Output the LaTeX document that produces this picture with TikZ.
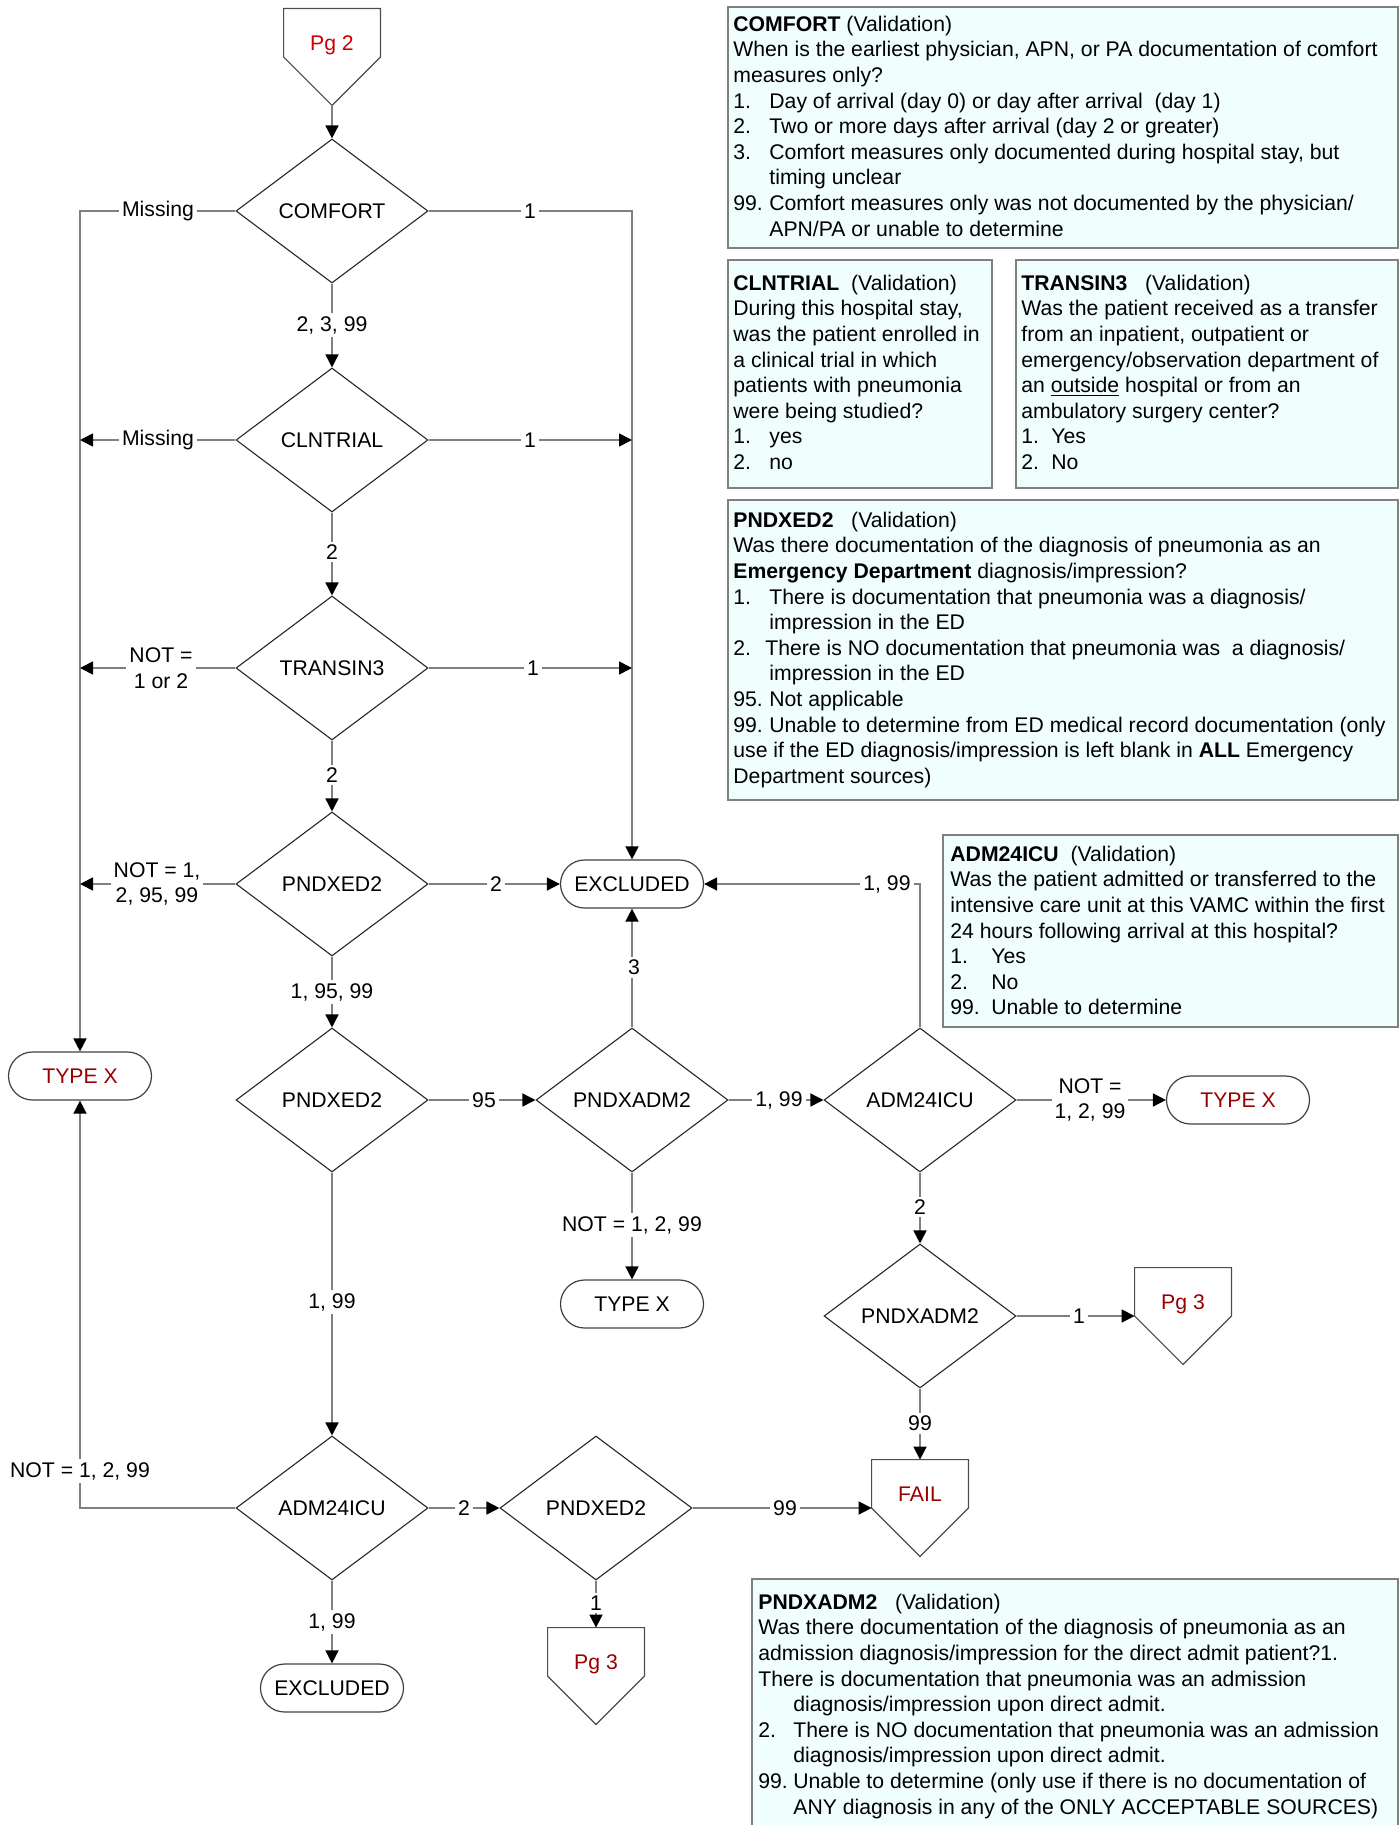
\documentclass[tikz,border=0pt]{standalone}
\usepackage{fontspec}
\setmainfont{Liberation Sans}
\usetikzlibrary{shapes.geometric,shapes.misc,arrows.meta,fit}
\definecolor{linegray}{HTML}{808080}
\definecolor{boxfill}{HTML}{F0FEFE}
\definecolor{pgred}{HTML}{CC0000}
\definecolor{darkred}{HTML}{990000}
\newcommand\mkitem[2][18pt]{\makebox[#1][l]{#2}}
\newcommand\fsz{\fontsize{10.6pt}{12.8pt}\selectfont}
\begin{document}
\begin{tikzpicture}[x=0.5pt,y=-0.5pt,
  every node/.style={font=\fsz},
  dia/.style={diamond, draw=black!85, line width=0.55pt, minimum width=96pt, minimum height=72pt, inner sep=0pt, aspect=1.333},
  term/.style={rounded rectangle, draw=black!75, line width=0.6pt, minimum width=71.5pt, minimum height=24pt, inner sep=0pt},
  offpage/.style={rectangle, minimum width=48pt, minimum height=48pt, inner sep=0pt, text height=8pt, text depth=14.4pt},
  outl/.style={draw=black!70, line width=0.6pt},
  conn/.style={draw=linegray, line width=0.8pt},
  arr/.style={conn, -{Triangle[length=6.5pt,width=6.5pt,color=black]}},
  lbl/.style={fill=white, inner sep=1.5pt, align=center},
  infobox/.style={draw=linegray, line width=0.8pt, fill=boxfill, inner sep=0pt},
  boxtext/.style={anchor=north west, align=left, inner sep=0pt},
]
\useasboundingbox (0,0) rectangle (1400,1825);

% ---------- information boxes ----------
\node[infobox, fit={(728,7) (1398,248)}] (bxComfort) {};
\node[boxtext] (txComfort) at (733,13) {\strut\textbf{COMFORT} (Validation)\\
When is the earliest physician, APN, or PA documentation of comfort\\
measures only?\\
\mkitem{1.}Day of arrival (day 0) or day after arrival~~(day 1)\\
\mkitem{2.}Two or more days after arrival (day 2 or greater)\\
\mkitem{3.}Comfort measures only documented during hospital stay, but\\
\hspace*{18pt}timing unclear\\
\mkitem{99.}Comfort measures only was not documented by the physician/\\
\hspace*{18pt}APN/PA or unable to determine};

\node[infobox, fit={(728,260) (992,488)}] (bxClntrial) {};
\node[boxtext] (txClntrial) at (733,272) {\strut\textbf{CLNTRIAL}~~(Validation)\\
During this hospital stay,\\
was the patient enrolled in\\
a clinical trial in which\\
patients with pneumonia\\
were being studied?\\
\mkitem{1.}yes\\
\mkitem{2.}no};

\node[infobox, fit={(1016,260) (1398,488)}] (bxTransin) {};
\node[boxtext] (txTransin) at (1021,272) {\strut\textbf{TRANSIN3}~~~(Validation)\\
Was the patient received as a transfer\\
from an inpatient, outpatient or\\
emergency/observation department of\\
an \underline{outside} hospital or from an\\
ambulatory surgery center?\\
\mkitem[15pt]{1.}Yes\\
\mkitem[15pt]{2.}No};

\node[infobox, fit={(728,500) (1398,800)}] (bxPnded) {};
\node[boxtext] (txPnded) at (733,509) {\strut\textbf{PNDXED2}~~~(Validation)\\
Was there documentation of the diagnosis of pneumonia as an\\
\textbf{Emergency Department} diagnosis/impression?\\
\mkitem{1.}There is documentation that pneumonia was a diagnosis/\\
\hspace*{18pt}impression in the ED\\
\mkitem[16pt]{2.}There is NO documentation that pneumonia was~~a diagnosis/\\
\hspace*{18pt}impression in the ED\\
\mkitem{95.}Not applicable\\
\mkitem{99.}Unable to determine from ED medical record documentation (only\\
use if the ED diagnosis/impression is left blank in \textbf{ALL} Emergency\\
Department sources)};

\node[infobox, fit={(943,835) (1398,1027)}] (bxAdm) {};
\node[boxtext] (txAdm) at (950,843) {\strut\textbf{ADM24ICU}~~(Validation)\\
Was the patient admitted or transferred to the\\
intensive care unit at this VAMC within the first\\
24 hours following arrival at this hospital?\\
\mkitem[20.5pt]{1.}Yes\\
\mkitem[20.5pt]{2.}No\\
\mkitem[20.5pt]{99.}Unable to determine};

\node[infobox, fit={(752,1579) (1398,1840)}] (bxPnadm) {};
\node[boxtext] (txPnadm) at (758,1591) {\strut\textbf{PNDXADM2}~~~(Validation)\\
Was there documentation of the diagnosis of pneumonia as an\\
admission diagnosis/impression for the direct admit patient?1.\\
There is documentation that pneumonia was an admission\\
\hspace*{17.5pt}diagnosis/impression upon direct admit.\\
\mkitem[17.5pt]{2.}There is NO documentation that pneumonia was an admission\\
\hspace*{17.5pt}diagnosis/impression upon direct admit.\\
\mkitem[17.5pt]{99.}Unable to determine (only use if there is no documentation of\\
\hspace*{17.5pt}ANY diagnosis in any of the ONLY ACCEPTABLE SOURCES)};

% ---------- off-page connectors ----------
\node[offpage, text=pgred] (oPg2) at (332,57) {Pg 2};
\node[offpage, text=darkred] (oPg3a) at (1183,1316) {Pg 3};
\node[offpage, text=darkred] (oFail) at (920,1508) {FAIL};
\node[offpage, text=darkred] (oPg3b) at (596,1676) {Pg 3};
\foreach \n in {oPg2,oPg3a,oFail,oPg3b}
  \draw[outl] (\n.north west) -- (\n.north east) -- (\n.east) -- (\n.south) -- (\n.west) -- cycle;

% ---------- decisions ----------
\node[dia] (dComfort) at (332,211) {COMFORT};
\node[dia] (dClntrial) at (332,440) {CLNTRIAL};
\node[dia] (dTransin) at (332,668) {TRANSIN3};
\node[dia] (dPnded1) at (332,884) {PNDXED2};
\node[dia] (dPnded2) at (332,1100) {PNDXED2};
\node[dia] (dPnadm1) at (632,1100) {PNDXADM2};
\node[dia] (dAdm1) at (920,1100) {ADM24ICU};
\node[dia] (dPnadm2) at (920,1316) {PNDXADM2};
\node[dia] (dAdm2) at (332,1508) {ADM24ICU};
\node[dia] (dPnded3) at (596,1508) {PNDXED2};

% ---------- terminators ----------
\node[term, text=darkred] (tTypeXL) at (80,1076) {TYPE X};
\node[term] (tExcl1) at (632,884) {EXCLUDED};
\node[term, text=darkred] (tTypeXR) at (1238,1100) {TYPE X};
\node[term] (tTypeXM) at (632,1304) {TYPE X};
\node[term] (tExcl2) at (332,1688) {EXCLUDED};

% ---------- connectors ----------
\draw[arr] (oPg2.south) -- (dComfort.north);
\draw[arr] (dComfort.west) -| (tTypeXL.north);
\draw[arr] (dComfort.east) -| (tExcl1.north);
\draw[arr] (dComfort.south) -- (dClntrial.north);
\draw[arr] (dClntrial.west) -- (dClntrial.west -| tTypeXL.north);
\draw[arr] (dClntrial.east) -- (dClntrial.east -| tExcl1.north);
\draw[arr] (dClntrial.south) -- (dTransin.north);
\draw[arr] (dTransin.west) -- (dTransin.west -| tTypeXL.north);
\draw[arr] (dTransin.east) -- (dTransin.east -| tExcl1.north);
\draw[arr] (dTransin.south) -- (dPnded1.north);
\draw[arr] (dPnded1.west) -- (dPnded1.west -| tTypeXL.north);
\draw[arr] (dPnded1.east) -- (tExcl1.west);
\draw[arr] (dPnded1.south) -- (dPnded2.north);
\draw[arr] (dPnded2.east) -- (dPnadm1.west);
\draw[arr] (dPnadm1.north) -- (tExcl1.south);
\draw[arr] (dPnadm1.east) -- (dAdm1.west);
\draw[arr] (dAdm1.north) |- (tExcl1.east);
\draw[arr] (dAdm1.east) -- (tTypeXR.west);
\draw[arr] (dPnadm1.south) -- (tTypeXM.north);
\draw[arr] (dAdm1.south) -- (dPnadm2.north);
\draw[arr] (dPnadm2.east) -- (oPg3a.west);
\draw[arr] (dPnadm2.south) -- (oFail.north);
\draw[arr] (dPnded2.south) -- (dAdm2.north);
\draw[arr] (dAdm2.west) -| (tTypeXL.south);
\draw[arr] (dAdm2.east) -- (dPnded3.west);
\draw[arr] (dPnded3.east) -- (oFail.west);
\draw[arr] (dPnded3.south) -- (oPg3b.north);
\draw[arr] (dAdm2.south) -- (tExcl2.north);

% ---------- connector labels ----------
\node[lbl] (lMiss1) at (158,211) {Missing};
\node[lbl] (lC1) at (530,211) {1};
\node[lbl] (lC2) at (332,325) {2, 3, 99};
\node[lbl] (lMiss2) at (158,440) {Missing};
\node[lbl] (lCl1) at (530,440) {1};
\node[lbl] (lCl2) at (332,552) {2};
\node[lbl] (lT0) at (161,668) {NOT =\\1 or 2};
\node[lbl] (lT1) at (533,668) {1};
\node[lbl] (lT2) at (332,775) {2};
\node[lbl] (lP0) at (157,884) {NOT = 1,\\2, 95, 99};
\node[lbl] (lP2) at (496,884) {2};
\node[lbl] (lP1) at (332,992) {1, 95, 99};
\node[lbl] (lP95) at (484,1100) {95};
\node[lbl] (lA3) at (634,967) {3};
\node[lbl] (lA199) at (779,1100) {1, 99};
\node[lbl] (lI199) at (887,884) {1, 99};
\node[lbl] (lI0) at (1090,1100) {NOT =\\1, 2, 99};
\node[lbl] (lA0) at (632,1225) {NOT = 1, 2, 99};
\node[lbl] (lI2) at (920,1207) {2};
\node[lbl] (lB1) at (1079,1316) {1};
\node[lbl] (lB99) at (920,1423) {99};
\node[lbl] (lD199) at (332,1302) {1, 99};
\node[lbl] (lE0) at (80,1471) {NOT = 1, 2, 99};
\node[lbl] (lE2) at (464,1508) {2};
\node[lbl] (lF99) at (785,1508) {99};
\node[lbl] (lF1) at (596,1603) {1};
\node[lbl] (lE199) at (332,1622) {1, 99};
\end{tikzpicture}
\end{document}
